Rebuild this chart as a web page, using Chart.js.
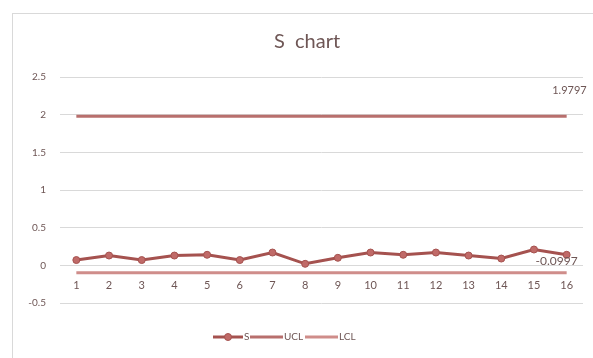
<!DOCTYPE html>
<html>
<head>
<meta charset="utf-8">
<script src="https://cdn.jsdelivr.net/npm/chart.js@4.4.1/dist/chart.umd.min.js"></script>
<style>
  html, body { margin: 0; padding: 0; background: #ffffff; }
  #wrap { position: relative; width: 593px; height: 358px; }
  #frame { position: absolute; left: 12px; top: 13px; width: 590px; height: 360px; border: 1px solid #d9d9d9; box-sizing: border-box; }
  canvas { position: absolute; left: 0; top: 0; }
</style>
</head>
<body>
<div id="wrap">
  <div id="frame"></div>
  <canvas id="c" width="593" height="358"></canvas>
</div>
<script>
// Subgroup numbers and sample standard deviations
const categories = ['1','2','3','4','5','6','7','8','9','10','11','12','13','14','15','16'];
const sValues = [0.07, 0.13, 0.07, 0.13, 0.14, 0.07, 0.17, 0.02, 0.10, 0.17, 0.14, 0.17, 0.13, 0.09, 0.21, 0.14];
// Control limits
const uclValue = 1.9797;
const lclValue = -0.0997;
const uclValues = categories.map(() => uclValue);
const lclValues = categories.map(() => lclValue);
const yTicks = [-0.5, 0, 0.5, 1, 1.5, 2, 2.5];

const sColor = '#a5524f';
const markerFill = '#c06a68';
const uclColor = '#b86f6d';
const lclColor = '#cf8d8a';
const textColor = '#6e5655';
const fontFamily = 'Lato, "Open Sans", sans-serif';

// Title, end-of-line value labels and the legend row
const annotate = {
  id: 'annotate',
  afterDatasetsDraw(chart) {
    const ctx = chart.ctx;
    ctx.save();
    ctx.fillStyle = textColor;
    ctx.font = '20px ' + fontFamily;
    ctx.textAlign = 'center'; ctx.textBaseline = 'middle';
    ctx.fillText('S  chart', 307, 42);

    ctx.textAlign = 'right';
    ctx.font = '11px ' + fontFamily;
    const mu = chart.getDatasetMeta(1).data;
    const pu = mu[mu.length - 1];
    ctx.fillText(uclValue.toString(), pu.x + 20, pu.y - 26);
    const ml = chart.getDatasetMeta(2).data;
    const pl = ml[ml.length - 1];
    ctx.font = '12px ' + fontFamily;
    ctx.fillText(lclValue.toString(), pl.x + 11, pl.y - 12);

    // legend
    const ly = 337;
    const items = [
      { text: chart.data.datasets[0].label, color: sColor, x0: 213, x1: 243, marker: true },
      { text: chart.data.datasets[1].label, color: uclColor, x0: 250, x1: 283, marker: false },
      { text: chart.data.datasets[2].label, color: lclColor, x0: 305, x1: 338, marker: false }
    ];
    ctx.font = '10px ' + fontFamily;
    ctx.textAlign = 'left';
    items.forEach(it => {
      ctx.strokeStyle = it.color; ctx.lineWidth = 3;
      ctx.beginPath(); ctx.moveTo(it.x0, ly); ctx.lineTo(it.x1, ly); ctx.stroke();
      if (it.marker) {
        ctx.fillStyle = markerFill; ctx.lineWidth = 1;
        ctx.beginPath(); ctx.arc((it.x0 + it.x1) / 2, ly, 3.5, 0, Math.PI * 2); ctx.fill(); ctx.stroke();
      }
      ctx.fillStyle = textColor;
      ctx.fillText(it.text, it.x1 + 1, ly);
    });
    ctx.restore();
  }
};

new Chart(document.getElementById('c'), {
  type: 'line',
  data: {
    labels: categories,
    datasets: [
      { label: 'S', data: sValues, borderColor: sColor, borderWidth: 3,
        pointRadius: 3.5, pointBackgroundColor: markerFill, pointBorderColor: sColor,
        pointBorderWidth: 1, tension: 0, order: 1 },
      { label: 'UCL', data: uclValues, borderColor: uclColor, borderWidth: 3,
        pointRadius: 0, order: 2 },
      { label: 'LCL', data: lclValues, borderColor: lclColor, borderWidth: 3,
        pointRadius: 0, order: 3 }
    ]
  },
  options: {
    responsive: false,
    animation: false,
    events: [],
    layout: { padding: { left: 12, right: 10, top: 77, bottom: 55 } },
    scales: {
      x: {
        position: { y: 0 },
        offset: true,
        grid: { display: false },
        border: { display: false },
        ticks: { color: textColor, font: { size: 11, family: fontFamily }, padding: 6, maxRotation: 0 }
      },
      y: {
        min: -0.5, max: 2.5,
        afterBuildTicks(scale) { scale.ticks = yTicks.map(v => ({ value: v })); },
        afterFit(scale) { scale.width = 48; },
        grid: { color: '#d9d9d9', drawTicks: false },
        border: { display: false },
        ticks: { color: textColor, font: { size: 10, family: fontFamily }, padding: 14,
                 callback: v => String(v) }
      }
    },
    plugins: {
      title: { display: false },
      tooltip: { enabled: false },
      legend: { display: false }
    }
  },
  plugins: [annotate]
});
</script>
</body>
</html>
